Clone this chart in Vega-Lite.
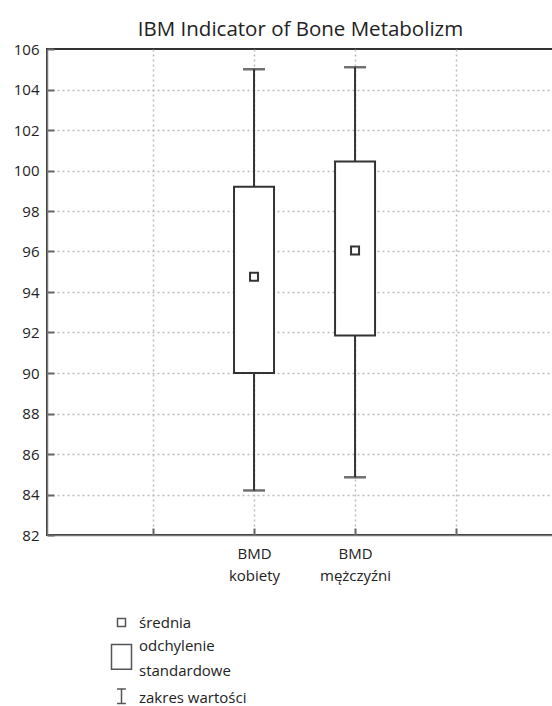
{
  "$schema": "https://vega.github.io/schema/vega-lite/v6.json",
  "autosize": {"type": "none"},
  "padding": {"left": 47, "top": 49, "right": 0, "bottom": 171},
  "width": 507,
  "height": 486,
  "background": "white",
  "title": {"text": "IBM Indicator of Bone Metabolizm", "anchor": "middle", "fontSize": 20.5, "font": "Open Sans", "fontWeight": "normal", "color": "#222", "offset": 2},
  "data": {"values": [
    {"group": "BMD kobiety", "pos": 2, "min": 84.2, "lower": 90.0, "mean": 94.75, "upper": 99.2, "max": 105.0, "kind": "średnia"},
    {"group": "BMD mężczyźni", "pos": 3, "min": 84.85, "lower": 91.85, "mean": 96.05, "upper": 100.45, "max": 105.1, "kind": "średnia"}
  ]},
  "encoding": {
    "x": {"field": "pos", "type": "quantitative", "scale": {"domain": [0, 4.92], "nice": false, "zero": false},
      "axis": {"title": null, "values": [1, 2, 3, 4], "labelExpr": "datum.value == 2 ? ['BMD','kobiety'] : datum.value == 3 ? ['BMD','mężczyźni'] : ''", "labelLineHeight": 22, "labelPadding": 18, "labelBaseline": "top"}}
  },
  "layer": [
    {"mark": {"type": "rule", "color": "#333", "strokeWidth": 2},
     "encoding": {"y": {"field": "min", "type": "quantitative", "scale": {"domain": [82, 106], "nice": false, "zero": false},
       "axis": {"title": null, "values": [82,84,86,88,90,92,94,96,98,100,102,104,106], "labelPadding": 15,
         "gridOpacity": {"condition": {"test": "datum.value == 106 || datum.value == 82", "value": 0}, "value": 1}}},
       "y2": {"field": "max"}}},
    {"mark": {"type": "bar", "fill": "white", "stroke": "#333", "strokeWidth": 2, "size": 40},
     "encoding": {"y": {"field": "lower", "type": "quantitative"}, "y2": {"field": "upper"}}},
    {"transform": [{"fold": ["min", "max"], "as": ["end", "val"]}],
     "mark": {"type": "tick", "orient": "horizontal", "color": "#333", "size": 22, "thickness": 2.5},
     "encoding": {"y": {"field": "val", "type": "quantitative"}}},
    {"mark": {"type": "point", "filled": false, "stroke": "#333", "strokeWidth": 2, "size": 64, "opacity": 1},
     "encoding": {"y": {"field": "mean", "type": "quantitative"},
       "shape": {"field": "kind", "type": "nominal",
         "scale": {"domain": ["średnia", "odchylenie standardowe", "zakres wartości"],
           "range": ["M-1,-1H1V1H-1Z", "M-2.5,-0.25H2.5V5.95H-2.5Z", "M-1.1,-2.1H1.1M0,-2.1V1.5M-1.1,1.5H1.1"]},
         "legend": {"title": null, "orient": "none", "legendX": 67, "legendY": 566, "padding": 0,
           "labelExpr": "datum.label == 'odchylenie standardowe' ? ['odchylenie','standardowe'] : datum.label",
           "labelFontSize": 15, "labelOffset": 10, "rowPadding": 7, "symbolSize": 64,
           "symbolStrokeColor": "#555", "symbolStrokeWidth": 1.5, "symbolFillColor": "white", "labelColor": "#222"}}}}
  ],
  "config": {
    "font": "Open Sans",
    "style": {"guide-label": {"lineHeight": 25}},
    "view": {"stroke": "#333", "strokeWidth": 2},
    "axis": {"labelFont": "Open Sans", "labelFontSize": 15, "labelColor": "#222", "domainColor": "#777", "domainWidth": 1.5,
      "tickColor": "#666", "tickWidth": 2, "tickSize": -7, "grid": true, "gridColor": "#bbb", "gridDash": [2, 3], "gridWidth": 1.5},
    "legend": {"labelFont": "Open Sans"}
  }
}
